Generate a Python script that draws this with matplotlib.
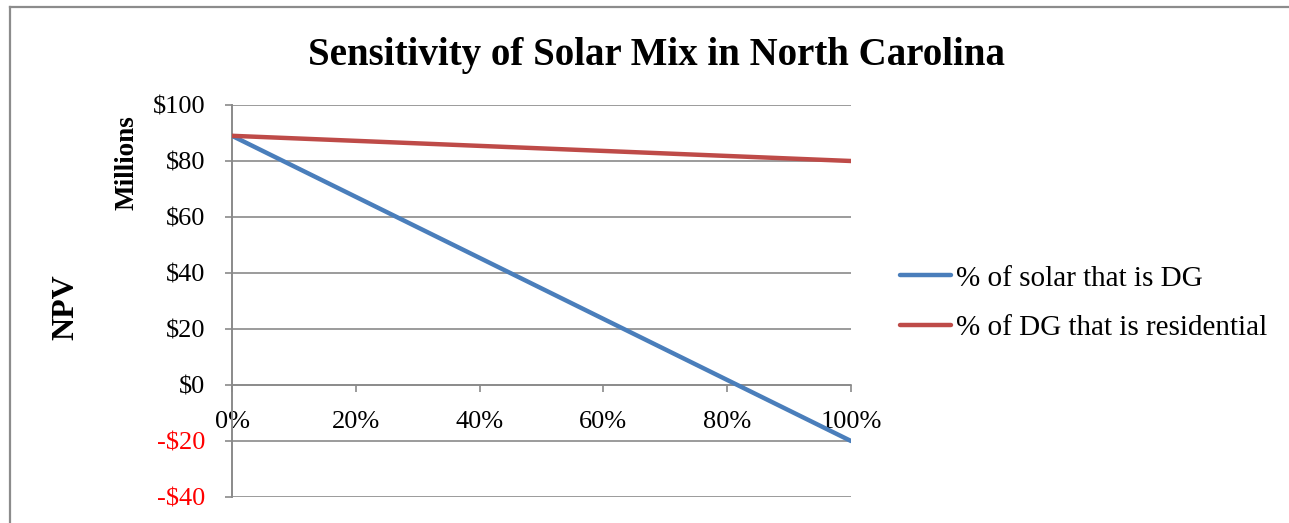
import matplotlib
matplotlib.use("Agg")
import matplotlib.pyplot as plt
from matplotlib.ticker import FuncFormatter, FixedLocator
from matplotlib.lines import Line2D

# Share of the mix (x) and NPV in millions of dollars (y)
share = [0.0, 0.2, 0.4, 0.6, 0.8, 1.0]
npv_solar_dg = [89.0, 67.2, 45.4, 23.6, 1.8, -20.0]
npv_dg_residential = [89.0, 87.2, 85.4, 83.6, 81.8, 80.0]

series_names = ["% of solar that is DG", "% of DG that is residential"]
x_ticks = [0.0, 0.2, 0.4, 0.6, 0.8, 1.0]
y_ticks = [-40, -20, 0, 20, 40, 60, 80, 100]

title = "Sensitivity of Solar Mix in North Carolina"

FONT = "Liberation Serif"
plt.rcParams["font.family"] = [FONT, "DejaVu Serif"]

W, H = 1289, 523
fig = plt.figure(figsize=(W / 100, H / 100), dpi=100)
fig.patch.set_facecolor("white")

# chart frame (top and left edges)
fig.add_artist(Line2D([10 / W, 10 / W], [0, 1 - 7 / H], color="#8c8c8c", lw=1.6,
                      transform=fig.transFigure))
fig.add_artist(Line2D([10 / W, 1], [1 - 7 / H, 1 - 7 / H], color="#8c8c8c", lw=1.6,
                      transform=fig.transFigure))

ax = fig.add_axes([232 / W, 1 - 497 / H, (851 - 232) / W, (497 - 105) / H])
ax.set_xlim(0, 1)
ax.set_ylim(-40, 100)

grid_c = "#8a8a8a"
ax.yaxis.set_major_locator(FixedLocator(y_ticks))
ax.xaxis.set_major_locator(FixedLocator(x_ticks))
ax.yaxis.grid(True, color=grid_c, lw=1.2)
ax.set_axisbelow(True)

for s in ["top", "right"]:
    ax.spines[s].set_visible(False)
ax.spines["left"].set_color(grid_c)
ax.spines["left"].set_linewidth(1.4)
ax.spines["bottom"].set_position(("data", 0))
ax.spines["bottom"].set_color(grid_c)
ax.spines["bottom"].set_linewidth(1.2)

ax.tick_params(axis="both", direction="out", length=5, width=1.2, color=grid_c,
               labelsize=19)
ax.tick_params(axis="y", pad=14)
ax.tick_params(axis="x", pad=14)

ax.yaxis.set_major_formatter(FuncFormatter(
    lambda v, p: f"-${abs(int(v))}" if v < 0 else f"${int(v)}"))
ax.xaxis.set_major_formatter(FuncFormatter(lambda v, p: f"{int(round(v * 100))}%"))
for lbl, v in zip(ax.get_yticklabels(), y_ticks):
    lbl.set_color("#ff0000" if v < 0 else "black")

ax.plot(share, npv_solar_dg, color="#4a7ebb", lw=3.2, solid_capstyle="round",
        label=series_names[0], zorder=3)
ax.plot(share, npv_dg_residential, color="#be4b48", lw=3.2, solid_capstyle="round",
        label=series_names[1], zorder=3)

leg = fig.legend(loc="center left", bbox_to_anchor=(885 / W, 1 - 303 / H),
                 frameon=False, fontsize=21, handlelength=1.75, handletextpad=0.17,
                 labelspacing=0.78, borderpad=0)

fig.text(657 / W, 1 - 55 / H, title, ha="center", va="center",
         fontsize=28, fontweight="bold")
fig.text(127 / W, 1 - 163 / H, "Millions", ha="center", va="center",
         rotation=90, fontsize=19.5, fontweight="bold")
fig.text(66 / W, 1 - 307 / H, "NPV", ha="center", va="center",
         rotation=90, fontsize=23, fontweight="bold")

fig.savefig("out.png", dpi=100)
